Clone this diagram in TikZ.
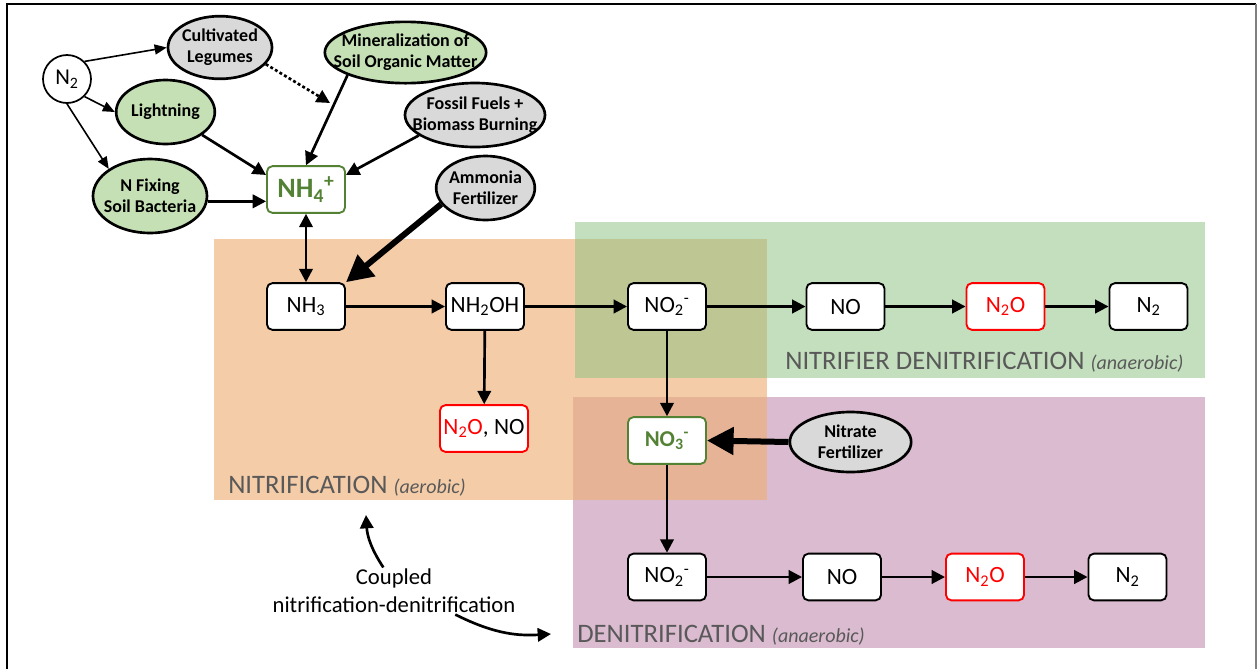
\documentclass[tikz,border=0pt]{standalone}
\usepackage{fontspec}
\setmainfont{Carlito}
\usepackage{tikz}
\usetikzlibrary{shapes,arrows.meta,positioning}
\definecolor{srcgreen}{RGB}{197,224,180}
\definecolor{srcgray}{RGB}{217,217,217}
\definecolor{poolgreen}{RGB}{84,130,53}
\definecolor{nitrorange}{RGB}{239,175,119}
\definecolor{nitrgreen}{RGB}{141,193,130}
\definecolor{denitrpurple}{RGB}{219,187,208}
\definecolor{labelgray}{RGB}{89,89,89}

\begin{document}
\begin{tikzpicture}[x=0.75pt, y=-0.75pt,
    chem box/.style={draw, rounded corners=4pt, line width=1.4pt, fill=white, minimum width=58.5pt, minimum height=35pt, inner sep=1pt, font=\fontsize{17.5}{20}\selectfont},
    pool box/.style={chem box, draw=poolgreen, text=poolgreen, font=\fontsize{17}{20}\selectfont\bfseries},
    ghg box/.style={chem box, draw=red},
    source/.style={ellipse, draw, line width=2pt, inner xsep=-12pt, inner ysep=0pt, align=center, font=\fontsize{13.5}{16}\selectfont\bfseries},
    flow/.style={-{Triangle[length=10pt,width=10pt]}, line width=2pt},
    both flow/.style={{Triangle[length=10pt,width=10pt]}-{Triangle[length=10pt,width=10pt]}, line width=2pt},
    fix flow/.style={-{Triangle[length=9pt,width=7.5pt]}, line width=1.2pt},
    fert flow/.style={-{Triangle[length=20pt,width=20pt]}, line width=4.5pt},
    region label/.style={anchor=base west, inner xsep=0pt, text=labelgray, font=\fontsize{20}{24}\selectfont}]
    \useasboundingbox (0,0) rectangle (1257,669);

    \fill[denitrpurple] (573,397) rectangle (1205,648);
    \fill[nitrorange, fill opacity=0.64] (214,239) rectangle (767,500);
    \fill[nitrgreen, fill opacity=0.52] (575,222) rectangle (1205,378);

    \node[region label] (nitrlab) at (228,493) {NITRIFICATION {\fontsize{15}{18}\selectfont\itshape(aerobic)}};
    \node[region label] (nitdenlab) at (785,369) {NITRIFIER DENITRIFICATION {\fontsize{15}{18}\selectfont\itshape(anaerobic)}};
    \node[region label] (denlab) at (577,642) {DENITRIFICATION {\fontsize{15}{18}\selectfont\itshape(anaerobic)}};

    \node[circle, draw, fill=white, line width=1.3pt, minimum size=36pt, inner sep=0pt, font=\fontsize{17}{20}\selectfont] (n2) at (67,79) {N\textsubscript{2}};
    \node[source, fill=srcgray, minimum width=78pt, minimum height=47pt] (leg) at (220,47.5) {Cultivated\\Legumes};
    \node[source, fill=srcgreen, minimum width=121pt, minimum height=46pt] (min) at (405.5,52.5) {Mineralization of\\Soil Organic Matter};
    \node[source, fill=srcgreen, minimum width=74pt, minimum height=48pt] (light) at (165.5,112) {Lightning};
    \node[source, fill=srcgray, minimum width=105pt, minimum height=48pt] (foss) at (475,115) {Fossil Fuels +\\Biomass Burning};
    \node[source, fill=srcgreen, minimum width=85.5pt, minimum height=55.5pt] (nfix) at (150,196) {N Fixing\\Soil Bacteria};
    \node[source, fill=srcgray, minimum width=74pt, minimum height=48pt] (amm) at (485.5,188) {Ammonia\\Fertilizer};
    \node[source, fill=srcgray, minimum width=91pt, minimum height=45pt] (nit) at (850.5,442) {Nitrate\\Fertilizer};

    \node[pool box, font=\fontsize{21}{24}\selectfont\bfseries] (nh4) at (306,189.5) {NH\textsubscript{4}\textsuperscript{+}};
    \node[chem box] (nh3) at (306,306.5) {NH\textsubscript{3}};
    \node[chem box] (nh2oh) at (485,306.5) {NH\textsubscript{2}OH};
    \node[chem box] (no2) at (667,306.5) {NO\textsubscript{2}\textsuperscript{-}};
    \node[chem box] (no) at (845.5,306.5) {NO};
    \node[ghg box, text=red] (n2o) at (1005.5,306.5) {N\textsubscript{2}O};
    \node[chem box] (n2end) at (1148.5,306.5) {N\textsubscript{2}};
    \node[ghg box, minimum width=66pt] (n2ono) at (484,428.5) {\textcolor{red}{N\textsubscript{2}O}, NO};
    \node[pool box] (no3) at (667,440.5) {NO\textsubscript{3}\textsuperscript{-}};
    \node[chem box] (no2d) at (667,577) {NO\textsubscript{2}\textsuperscript{-}};
    \node[chem box] (nod) at (842,577) {NO};
    \node[ghg box, text=red] (n2od) at (985,577) {N\textsubscript{2}O};
    \node[chem box] (n2d) at (1127.5,577) {N\textsubscript{2}};

    \node[align=center, inner sep=1pt, font=\fontsize{17}{21}\selectfont] (coup) at (394,591) {Coupled\\nitrification-denitrification};
    \coordinate (legtip) at (330,103);
    \coordinate (nitrtip) at (366,515);
    \coordinate (denitip) at (551,634);

    \draw[fix flow] (n2.north east) -- (leg.west);
    \draw[fix flow] (n2.south east) -- (light.west);
    \draw[fix flow] (n2.south) -- (nfix.north west);
    \draw[flow, dash pattern=on 2.2pt off 1.8pt] (leg.-20) -- (legtip);
    \draw[flow] (min.south west) -- (nh4.north);
    \draw[flow] (light) -- (nh4.160);
    \draw[flow] (foss.200) -- (nh4.20);
    \draw[flow] ([yshift=-4pt]nfix.east) -- ([yshift=-4pt]nfix.east -| nh4.west);
    \draw[both flow] (nh4) -- (nh3);
    \draw[fert flow] (amm.200) -- (nh3.north east);

    \draw[flow] (nh3) -- (nh2oh);
    \draw[flow] (nh2oh) -- (no2);
    \draw[flow] (no2) -- (no);
    \draw[flow] (no) -- (n2o);
    \draw[flow] (n2o) -- (n2end);
    \draw[flow] (nh2oh) -- (n2ono);
    \draw[flow] (no2) -- (no3);
    \draw[fert flow] (nit.west) -- (no3.east);
    \draw[flow] (no3) -- (no2d);
    \draw[flow] (no2d) -- (nod);
    \draw[flow] (nod) -- (n2od);
    \draw[flow] (n2od) -- (n2d);

    \draw[flow] ([xshift=-8pt]coup.north) to[bend left=15] (nitrtip);
    \draw[flow] ([xshift=46pt]coup.south) to[bend right=15] (denitip);

    \draw[line width=1.5pt] (7,669) -- (7,4) -- (1256,4);
    \draw[gray, line width=0.8pt] (1256,4) -- (1256,669);
\end{tikzpicture}
\end{document}
